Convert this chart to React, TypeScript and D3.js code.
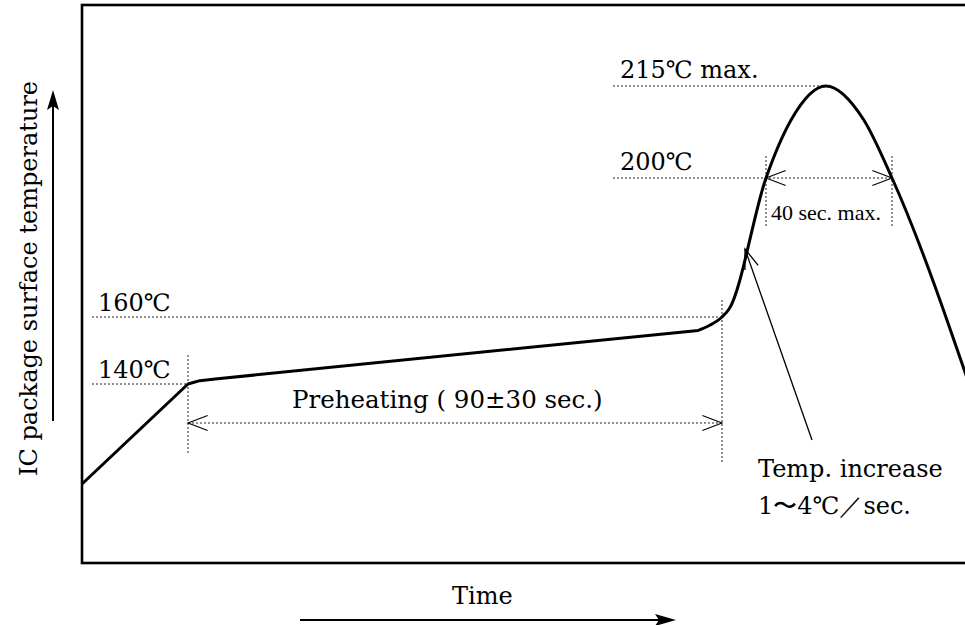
import * as d3 from "d3"

// reflow profile (time in s, temp in degC)
const rampTime = [0, 30, 32, 34.6, 116]
const rampTemp = [110, 140, 141, 141.5, 156]
const peakTime = [116, 118, 120, 122.1, 133, 141, 152, 164, 173, 200]
const peakTemp = [156, 157.6, 160, 162.3, 200, 209.5, 215, 209.5, 200, 133]

// the drawing is a schematic, so each axis is piecewise
const timeKnots = [0, 30, 120, 133, 173, 200]
const tempKnots = [110, 140, 160, 200, 215]

// reference levels
const lowLevels = [140, 160]
const lowLabels = ["140℃", "160℃"]
const highLevels = [200, 215]
const highLabels = ["200℃", "215℃  max."]

// windows
const preheat = [30, 120]
const above200 = [133, 173]

const W = 965
const H = 625
const frame = { left: 82, top: 5, bottom: 563 }
const font = "'DejaVu Serif', serif"

export default function App() {
	const x = d3.scaleLinear().domain(timeKnots).range([frame.left, 188, 722, 766, 892, 977])
	const y = d3.scaleLinear().domain(tempKnots).range([484, 384, 317, 178, 86])

	const toPts = (ts: number[], vs: number[]) => ts.map((t, i) => [x(t), y(vs[i])] as [number, number])
	const rampPath = d3.line()(toPts(rampTime, rampTemp)) ?? ""
	const peakPath = d3.line().curve(d3.curveMonotoneX)(toPts(peakTime, peakTemp)) ?? ""
	// join both pieces into one stroke
	const profile = rampPath + "L" + peakPath.slice(1)

	const dot = { stroke: "#222", strokeWidth: 1, strokeDasharray: "2 2" }
	const thin = { stroke: "#000", strokeWidth: 1.1, fill: "none" }

	// open arrowhead: tip + direction back towards the tail
	const openHead = (tx: number, ty: number, dx: number, dy: number, len = 21, spread = 0.36) => {
		const a = Math.atan2(dy, dx)
		const p1 = [tx + len * Math.cos(a - spread), ty + len * Math.sin(a - spread)]
		const p2 = [tx + len * Math.cos(a + spread), ty + len * Math.sin(a + spread)]
		return `M${p1[0]},${p1[1]}L${tx},${ty}L${p2[0]},${p2[1]}`
	}

	const yPre = 423
	const x0 = x(preheat[0]), x1 = x(preheat[1])
	const a0 = x(above200[0]), a1 = x(above200[1])
	const y200 = y(200)

	// leader for the ramp label
	const leadTip = [745, 249]
	const leadTail = [812, 440]

	return (
		<svg width={W} height={H} style={{ position: "absolute", left: 0, top: 0, background: "#fff" }} fontFamily={font}>
			{/* frame */}
			<rect x={frame.left} y={frame.top} width={1000} height={frame.bottom - frame.top} fill="none" stroke="#000" strokeWidth={2.6} />

			{/* level guides */}
			{lowLevels.map((t, i) => (
				<g key={t}>
					<line x1={92} x2={t === 140 ? x0 : x1} y1={y(t)} y2={y(t)} {...dot} />
					<text x={98} y={y(t) - 6} fontSize={24}>{lowLabels[i]}</text>
				</g>
			))}
			{highLevels.map((t, i) => (
				<g key={t}>
					<line x1={613} x2={t === 215 ? x(152) : a1} y1={y(t)} y2={y(t)} {...dot} />
					<text x={620} y={y(t) - 8} fontSize={24}>{highLabels[i]}</text>
				</g>
			))}

			{/* preheating window */}
			<line x1={x0} x2={x0} y1={355} y2={455} {...dot} />
			<line x1={x1} x2={x1} y1={300} y2={462} {...dot} />
			<line x1={x0} x2={x1} y1={yPre} y2={yPre} {...dot} />
			<path d={openHead(x0, yPre, 1, 0)} {...thin} />
			<path d={openHead(x1, yPre, -1, 0)} {...thin} />
			<text x={292} y={408} fontSize={24.5}>Preheating ( 90±30 sec.)</text>

			{/* time above 200 */}
			<line x1={a0} x2={a0} y1={156} y2={227} {...dot} />
			<line x1={a1} x2={a1} y1={156} y2={228} {...dot} />
			<path d={openHead(a0, y200, 1, 0)} {...thin} />
			<path d={openHead(a1, y200, -1, 0)} {...thin} />
			<text x={771} y={220} fontSize={22} fontFamily="'Liberation Serif', serif">40 sec. max.</text>

			{/* profile */}
			<path d={profile} fill="none" stroke="#000" strokeWidth={3} strokeLinejoin="round" />

			{/* ramp rate note */}
			<line x1={leadTail[0]} y1={leadTail[1]} x2={leadTip[0]} y2={leadTip[1]} stroke="#000" strokeWidth={1.3} />
			<path d={openHead(leadTip[0], leadTip[1], leadTail[0] - leadTip[0], leadTail[1] - leadTip[1], 21, 0.34)} {...thin} strokeWidth={1.3} />
			<text x={758} y={477} fontSize={24}>Temp. increase</text>
			<text x={758} y={514} fontSize={24}>1〜4℃／sec.</text>

			{/* axis titles */}
			<text transform="translate(37,476) rotate(-90)" fontSize={24}>IC package surface temperature</text>
			<line x1={53} x2={53} y1={421} y2={100} stroke="#000" strokeWidth={2} />
			<path d="M53,90L47,110L53,106L59,110Z" fill="#000" />

			<text x={452} y={604} fontSize={24}>Time</text>
			<line x1={300} x2={665} y1={620} y2={620} stroke="#000" strokeWidth={2} />
			<path d="M676,620L655,614L659,620L655,626Z" fill="#000" />
		</svg>
	)
}
